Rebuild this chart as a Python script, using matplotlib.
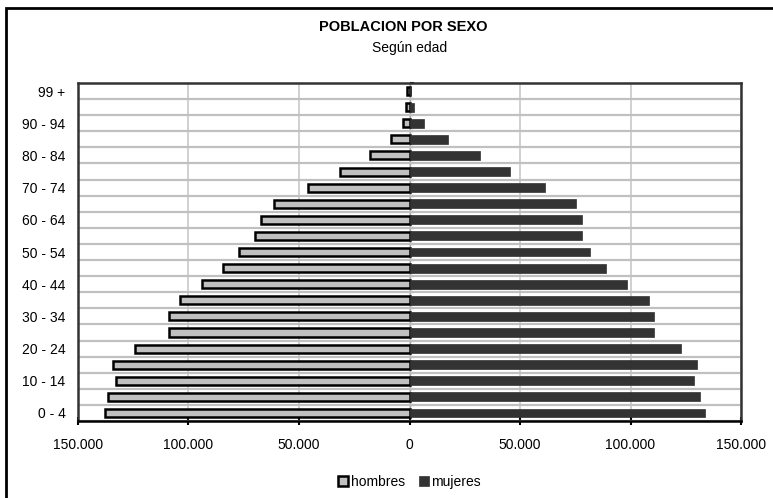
import numpy as np
import matplotlib.pyplot as plt
from matplotlib.patches import Rectangle
from matplotlib.ticker import FuncFormatter

plt.rcParams['font.family'] = ['Liberation Sans', 'DejaVu Sans']

# grupos de edad (de abajo hacia arriba)
edades = ['0 - 4', '5 - 9', '10 - 14', '15 - 19', '20 - 24', '25 - 29',
          '30 - 34', '35 - 39', '40 - 44', '45 - 49', '50 - 54', '55 - 59',
          '60 - 64', '65 - 69', '70 - 74', '75 - 79', '80 - 84', '85 - 89',
          '90 - 94', '95 - 98', '99 +']
hombres = [137600, 136400, 132800, 134000, 124300, 108600, 108600, 103800,
           94100, 84500, 77200, 70000, 67400, 61500, 45800, 31500, 18000,
           8500, 2800, 1500, 1000]
mujeres = [133700, 131300, 128900, 129900, 122800, 110700, 110700, 108200,
           98600, 88900, 81600, 78100, 78100, 75500, 61100, 45400, 32100,
           17600, 6700, 1900, 500]
xticks = [-150000, -100000, -50000, 0, 50000, 100000, 150000]

fig = plt.figure(figsize=(7.73, 4.98), dpi=100)
ax = fig.add_axes([78/773, 1-421/498, (741-78)/773, (421-83)/498])

y = np.arange(len(edades))
ax.barh(y, [-v for v in hombres], height=0.5, color='#c0c0c0',
        edgecolor='black', linewidth=1.8, label='hombres', zorder=3)
ax.barh(y, mujeres, height=0.55, color='#333333', edgecolor='#333333',
        linewidth=0.5, label='mujeres', zorder=3)

ax.set_xlim(-150000, 150000)
ax.set_ylim(-0.5, len(edades) - 0.5)

# etiquetas del eje y (una de cada dos)
ax.set_yticks(y[::2])
ax.set_yticklabels(edades[::2], fontsize=10)
ax.tick_params(axis='y', length=0, pad=9)
# lineas de division horizontales
ax.set_yticks(np.arange(len(edades) + 1) - 0.5, minor=True)
ax.tick_params(axis='y', which='minor', length=0)
ax.grid(axis='y', which='minor', color='#c0c0c0', linewidth=1.6, zorder=0)

# eje x
ax.set_xticks(xticks)
ax.xaxis.set_major_formatter(FuncFormatter(
    lambda v, p: '{:,.0f}'.format(abs(v)).replace(',', '.')))
ax.tick_params(axis='x', direction='inout', length=6, width=1.5,
               labelsize=10, pad=9)
ax.grid(axis='x', which='major', color='#c8c8c8', linewidth=1.2, zorder=0)

for s in ['left', 'right', 'top']:
    ax.spines[s].set_color('#333333')
    ax.spines[s].set_linewidth(1.8)
ax.spines['bottom'].set_color('black')
ax.spines['bottom'].set_linewidth(1.8)

# eje central en 0
ax2 = ax.secondary_yaxis(0.5)
ax2.set_yticks(np.arange(len(edades) + 1) - 0.5)
ax2.set_yticklabels([])
ax2.spines['left'].set_linewidth(2)
ax2.spines['left'].set_color('black')
ax2.tick_params(axis='y', direction='out', length=3, width=1.5)

# titulos
fig.text(0.522, 1-27/498, 'POBLACION POR SEXO', ha='center', va='center',
         fontsize=10.5, fontweight='bold')
fig.text(0.53, 1-48/498, 'Según edad', ha='center', va='center', fontsize=10)

# leyenda
ax.legend(loc='center', bbox_to_anchor=(0.53, 1-482/498), bbox_transform=fig.transFigure,
          ncol=2, frameon=False, fontsize=10, handlelength=0.7,
          handleheight=0.7, handletextpad=0.2, columnspacing=1.0)

# marco exterior
fig.patches.append(Rectangle((6/773, -0.05), 1.1, 1-8/498 + 0.05,
                             transform=fig.transFigure, fill=False,
                             edgecolor='black', linewidth=2))

plt.savefig('out.png', dpi=100)
